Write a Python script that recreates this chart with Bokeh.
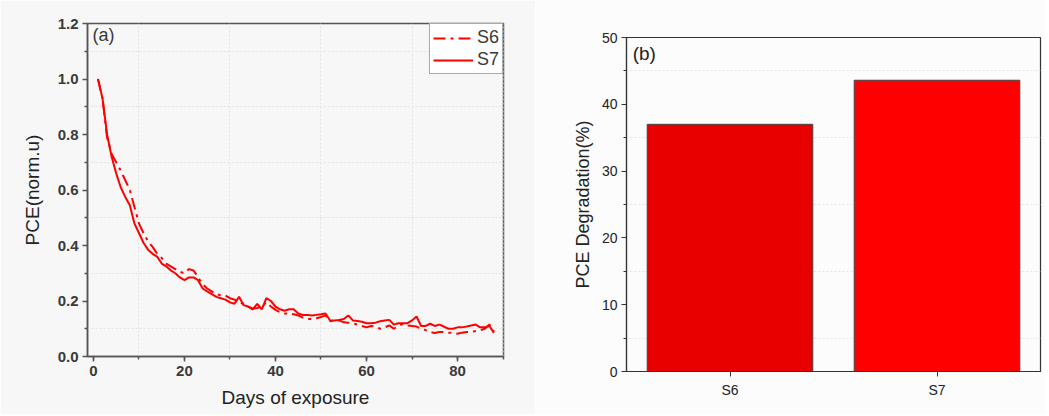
from bokeh.plotting import figure
from bokeh.layouts import row, column
from bokeh.models import (Range1d, FactorRange, SingleIntervalTicker, FixedTicker, Label, Legend,
                          LegendItem, ColumnDataSource, NumeralTickFormatter)
from bokeh.embed import file_html
from bokeh.resources import INLINE

days = list(range(1, 89))
s6 = [1.00, 0.93, 0.79, 0.73, 0.70, 0.67, 0.635, 0.60, 0.54, 0.48,
      0.445, 0.415, 0.395, 0.37, 0.355, 0.335, 0.325, 0.315, 0.305, 0.30,
      0.315, 0.31, 0.285, 0.26, 0.245, 0.235, 0.225, 0.22, 0.22, 0.21,
      0.205, 0.195, 0.19, 0.18, 0.172, 0.175, 0.18, 0.195, 0.18, 0.168,
      0.16, 0.155, 0.155, 0.152, 0.148, 0.14, 0.135, 0.135, 0.138, 0.142,
      0.148, 0.127, 0.13, 0.13, 0.123, 0.122, 0.12, 0.115, 0.11, 0.105,
      0.11, 0.108, 0.10, 0.105, 0.112, 0.10, 0.11, 0.118, 0.112, 0.11,
      0.108, 0.10, 0.095, 0.088, 0.085, 0.088, 0.088, 0.086, 0.085, 0.082,
      0.086, 0.088, 0.088, 0.092, 0.095, 0.10, 0.115, 0.09]
s7 = [1.00, 0.93, 0.80, 0.72, 0.66, 0.61, 0.575, 0.545, 0.48, 0.445,
      0.41, 0.385, 0.37, 0.36, 0.335, 0.325, 0.31, 0.30, 0.285, 0.275,
      0.285, 0.285, 0.275, 0.245, 0.235, 0.225, 0.215, 0.21, 0.205, 0.195,
      0.19, 0.215, 0.185, 0.18, 0.17, 0.19, 0.17, 0.21, 0.20, 0.18,
      0.17, 0.165, 0.17, 0.17, 0.155, 0.15, 0.15, 0.148, 0.15, 0.152,
      0.155, 0.13, 0.13, 0.132, 0.135, 0.148, 0.13, 0.128, 0.125, 0.12,
      0.12, 0.122, 0.127, 0.13, 0.132, 0.115, 0.12, 0.12, 0.12, 0.13,
      0.144, 0.11, 0.11, 0.118, 0.11, 0.115, 0.108, 0.10, 0.10, 0.105,
      0.105, 0.108, 0.112, 0.115, 0.105, 0.105, 0.11, 0.085]
y_ticks_a = [0.0, 0.2, 0.4, 0.6, 0.8, 1.0, 1.2]
y_minor_a = [0.1, 0.3, 0.5, 0.7, 0.9, 1.1]
x_minor_a = [10, 30, 50, 70, 90]

samples = ["S6", "S7"]
degradation = [37.0, 43.6]
bar_colors = ["#E80000", "#FF0000"]

FONT = "Liberation Sans"
AX = "#555555"
TXT = "#3a3a3a"
BG = "#f7f7f7"

# ---------------- left panel ----------------
p1 = figure(width=535, height=414, output_backend="svg", toolbar_location=None,
            x_range=Range1d(-1.3, 90.1), y_range=Range1d(0, 1.2),
            min_border_left=87, min_border_right=32, min_border_top=23, min_border_bottom=58)
p1.border_fill_color = BG
p1.background_fill_color = BG
p1.outline_line_color = AX
p1.outline_line_width = 1.5

l6 = p1.line(days, s6, line_color="#FF0000", line_width=2, line_dash="12 5 3 5")
l7 = p1.line(days, s7, line_color="#FF0000", line_width=2)

p1.xaxis.ticker = SingleIntervalTicker(interval=20, num_minor_ticks=2)
p1.yaxis.ticker = FixedTicker(ticks=y_ticks_a, minor_ticks=y_minor_a)
p1.yaxis.formatter = NumeralTickFormatter(format="0.0")
p1.xgrid.ticker = FixedTicker(ticks=x_minor_a)
p1.ygrid.ticker = FixedTicker(ticks=y_minor_a)
for g in (p1.xgrid, p1.ygrid):
    g.grid_line_color = "#e2e2e2"
    g.grid_line_dash = "2 2"
    g.grid_line_width = 1

for ax in (p1.xaxis, p1.yaxis):
    ax.axis_line_color = AX
    ax.axis_line_width = 1.5
    ax.major_tick_line_color = AX
    ax.minor_tick_line_color = AX
    ax.major_tick_line_width = 1.5
    ax.minor_tick_line_width = 1.5
    ax.major_tick_in = 0
    ax.major_tick_out = 5
    ax.minor_tick_in = 0
    ax.minor_tick_out = 3
    ax.major_label_text_font = FONT
    ax.major_label_text_font_size = "15px"
    ax.major_label_text_color = TXT
    ax.major_label_text_font_style = "bold"
    ax.axis_label_text_font = FONT
    ax.axis_label_text_font_size = "19px"
    ax.axis_label_text_font_style = "normal"
    ax.axis_label_text_color = "#222222"
p1.xaxis.axis_label = "Days of exposure"
p1.yaxis.axis_label = "PCE(norm.u)"
p1.xaxis.major_label_standoff = 4
p1.yaxis.major_label_standoff = 4
p1.xaxis.axis_label_standoff = 8
p1.yaxis.axis_label_standoff = 12

p1.add_layout(Label(x=-0.2, y=1.157, text="(a)", text_font=FONT, text_font_size="18px",
                    text_color=TXT, text_baseline="middle"))

legend = Legend(items=[LegendItem(label="S6", renderers=[l6]), LegendItem(label="S7", renderers=[l7])],
                location="top_right", margin=0, padding=3, spacing=1,
                glyph_width=40, glyph_height=20, label_height=20, label_standoff=4,
                label_text_font=FONT, label_text_font_size="18px", label_text_color=TXT,
                border_line_color=AX, border_line_width=1.5,
                background_fill_color="white", background_fill_alpha=1)
p1.add_layout(legend)

# ---------------- right panel ----------------
src = ColumnDataSource(dict(x=samples, top=degradation, color=bar_colors))
p2 = figure(width=510, height=414, output_backend="svg", toolbar_location=None,
            x_range=FactorRange(factors=samples), y_range=Range1d(0, 50),
            min_border_left=91, min_border_right=5, min_border_top=37, min_border_bottom=43)
p2.border_fill_color = "#fcfcfc"
p2.background_fill_color = "#fcfcfc"
p2.outline_line_color = "#333333"
p2.outline_line_width = 1.2
p2.vbar(x="x", top="top", width=0.8, source=src, fill_color="color",
        line_color="#444444", line_width=1)

p2.yaxis.ticker = SingleIntervalTicker(interval=10, num_minor_ticks=2)
p2.ygrid.ticker = FixedTicker(ticks=[5, 15, 25, 35, 45])
p2.ygrid.grid_line_color = "#e4e4e4"
p2.ygrid.grid_line_dash = "2 2"
p2.xgrid.visible = False
for ax in (p2.xaxis, p2.yaxis):
    ax.axis_line_color = "#333333"
    ax.axis_line_width = 1.2
    ax.major_tick_line_color = "#333333"
    ax.minor_tick_line_color = "#333333"
    ax.major_tick_in = 0
    ax.major_tick_out = 5
    ax.minor_tick_in = 0
    ax.minor_tick_out = 3
    ax.major_label_text_font = FONT
    ax.major_label_text_font_size = "14px"
    ax.major_label_text_color = "#222222"
    ax.axis_label_text_font = FONT
    ax.axis_label_text_font_size = "18px"
    ax.axis_label_text_font_style = "normal"
    ax.axis_label_text_color = "#222222"
p2.yaxis.axis_label = "PCE Degradation(%)"
p2.yaxis.major_label_standoff = 4
p2.xaxis.major_label_standoff = 5
p2.yaxis.axis_label_standoff = 6

p2.add_layout(Label(x=0.03, y=47.6, text="(b)", text_font=FONT, text_font_size="19px",
                    text_color="#222222", text_baseline="middle"))

layout = row(column(p1), column(p2))
open("out.html", "w").write(file_html(layout, INLINE))
